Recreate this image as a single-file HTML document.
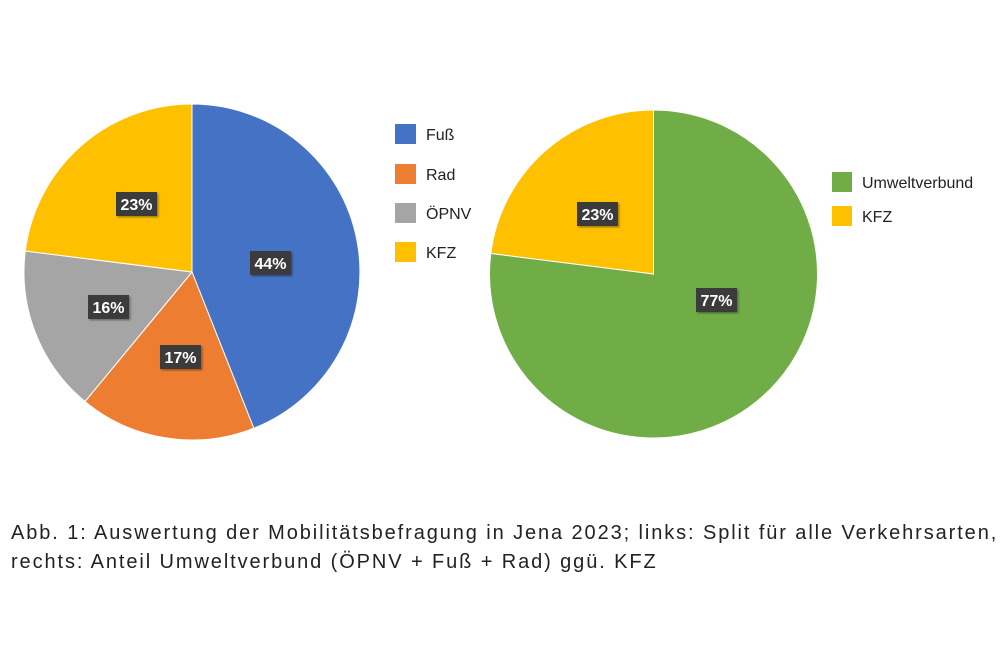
<!DOCTYPE html>
<html><head><meta charset="utf-8"><style>
body{margin:0;background:#fff;width:1000px;height:666px;overflow:hidden;font-family:"Liberation Sans",sans-serif}
.cap{position:absolute;left:11px;top:519px;font-size:20px;line-height:29px;color:#222;letter-spacing:1.9px;white-space:nowrap}
</style></head><body>
<svg width="1000" height="666" style="position:absolute;left:0;top:0" font-family="Liberation Sans, sans-serif">
<defs><filter id="sh"><feDropShadow dx="1.5" dy="1.5" stdDeviation="1" flood-color="#000" flood-opacity="0.35"/></filter></defs>
<g stroke="#fff" stroke-width="1">
<path d="M192,272 L192,104 A168,168 0 0 1 253.8,428.2 Z" fill="#4472C4"/>
<path d="M192,272 L253.8,428.2 A168,168 0 0 1 85,401.5 Z" fill="#ED7D31"/>
<path d="M192,272 L85,401.5 A168,168 0 0 1 25.3,251 Z" fill="#A5A5A5"/>
<path d="M192,272 L25.3,251 A168,168 0 0 1 192,104 Z" fill="#FFC000"/>
<path d="M653.5,274 L653.5,110 A164,164 0 1 1 490.8,253.4 Z" fill="#70AD47"/>
<path d="M653.5,274 L490.8,253.4 A164,164 0 0 1 653.5,110 Z" fill="#FFC000"/>
</g>
<g font-size="16" font-weight="bold" fill="#fff" text-anchor="middle">
<rect x="116" y="192" width="41" height="24" fill="#3a3a3a" filter="url(#sh)"/><text x="136.5" y="210">23%</text>
<rect x="250" y="251" width="41" height="24" fill="#3a3a3a" filter="url(#sh)"/><text x="270.5" y="269">44%</text>
<rect x="88" y="295" width="41" height="24" fill="#3a3a3a" filter="url(#sh)"/><text x="108.5" y="313">16%</text>
<rect x="160" y="345" width="41" height="24" fill="#3a3a3a" filter="url(#sh)"/><text x="180.5" y="363">17%</text>
<rect x="577" y="202" width="41" height="24" fill="#3a3a3a" filter="url(#sh)"/><text x="597.5" y="220">23%</text>
<rect x="696" y="288" width="41" height="24" fill="#3a3a3a" filter="url(#sh)"/><text x="716.5" y="306">77%</text>
</g>
<g font-size="16" fill="#222">
<rect x="395" y="124" width="21" height="20" fill="#4472C4"/><text x="426" y="140">Fuß</text>
<rect x="395" y="164" width="21" height="20" fill="#ED7D31"/><text x="426" y="180">Rad</text>
<rect x="395" y="203" width="21" height="20" fill="#A5A5A5"/><text x="426" y="219">ÖPNV</text>
<rect x="395" y="242" width="21" height="20" fill="#FFC000"/><text x="426" y="258">KFZ</text>
<rect x="832" y="172" width="20" height="20" fill="#70AD47"/><text x="862" y="188">Umweltverbund</text>
<rect x="832" y="206" width="20" height="20" fill="#FFC000"/><text x="862" y="222">KFZ</text>
</g>
</svg>
<div class="cap">Abb. 1: Auswertung der Mobilitätsbefragung in Jena 2023; links: Split für alle Verkehrsarten,<br>rechts: Anteil Umweltverbund (ÖPNV + Fuß + Rad) ggü. KFZ</div>
</body></html>
